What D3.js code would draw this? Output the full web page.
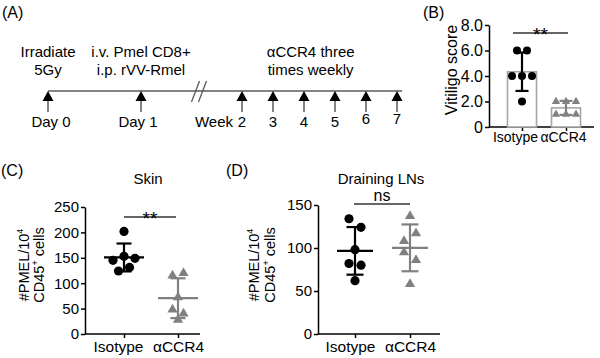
<!DOCTYPE html>
<html><head><meta charset="utf-8">
<script src="https://cdn.jsdelivr.net/npm/d3@7"></script>
<style>
body{margin:0;background:#fff}
svg{font-family:Arial,"Liberation Sans",Helvetica,sans-serif;display:block}
</style>
</head><body>
<svg id="chart" width="600" height="358"></svg>
<script>
// ---------- data ----------
const groups = ["Isotype", "αCCR4"];
const vitiligoIsotype = [6, 6, 4, 4, 4, 2];
const vitiligoCCR4 = [2, 2, 2, 1, 1, 1];
const skinIsotype = [202, 145, 153, 149, 124, 131];
const skinCCR4 = [115, 120, 72, 48, 40, 28];
const lnIsotype = [134, 124, 98, 82, 80, 62];
const lnCCR4 = [137, 108, 117, 95, 86, 58];
const vitiligoTicks = [0, 2, 4, 6, 8];
const vitiligoTickLabels = ["0", "2.0", "4.0", "6.0", "8.0"];
const skinTicks = [0, 50, 100, 150, 200, 250];
const lnTicks = [0, 50, 100, 150];
const significance = ["**", "**", "ns"];
const panelTitles = ["Skin", "Draining LNs"];
const panelLetters = ["(A)", "(B)", "(C)", "(D)"];
// timeline (days)
const timelineDays = [0, 1, 14, 21, 28, 35, 42, 49];
const timelineLabels = ["Day 0", "Day 1", "2", "3", "4", "5", "6", "7"];
const noteDays = [0, 1, 29.5];
const noteLines = [["Irradiate", "5Gy"], ["i.v. Pmel CD8+", "i.p. rVV-Rmel"], ["αCCR4 three", "times weekly"]];

// ---------- setup ----------
const svg = d3.select("#chart");
const GREY = "#808080";
const LINEGREY = "#5a5a5a";

// panel letters
const letterPos = [[2, 18], [423, 18], [1, 176], [226, 176]];
panelLetters.forEach((t, i) => {
  svg.append("text").attr("x", letterPos[i][0]).attr("y", letterPos[i][1])
    .attr("font-size", 16).text(t);
});

// ---------- Panel A: timeline ----------
(function () {
  const x = d3.scaleLinear().domain([0, 1, 14, 49]).range([48, 141, 242, 397]);
  const yLine = 91;
  const g = svg.append("g");
  g.append("line").attr("x1", x(0)).attr("x2", x(49) + 5)
    .attr("y1", yLine).attr("y2", yLine)
    .attr("stroke", LINEGREY).attr("stroke-width", 1.6);
  // break marks
  const bx = (x(1) + x(14)) / 2 + 8;
  [-4, 3].forEach(o => {
    g.append("line").attr("x1", bx + o - 4).attr("y1", yLine + 11)
      .attr("x2", bx + o + 4).attr("y2", yLine - 10)
      .attr("stroke", LINEGREY).attr("stroke-width", 1.3);
  });
  // arrows
  const arr = g.selectAll("g.arrow").data(timelineDays).join("g")
    .attr("transform", d => `translate(${x(d)},${yLine})`);
  arr.append("line").attr("y1", 9).attr("y2", 21)
    .attr("stroke", LINEGREY).attr("stroke-width", 1.5);
  arr.append("path").attr("d", "M0,0 L5.5,10 L-5.5,10 Z").attr("fill", "#000");
  // labels under
  g.selectAll("text.tl").data(timelineDays).join("text")
    .attr("x", (d, i) => i < 2 ? x(d) + (i === 0 ? 3 : -3) : x(d))
    .attr("y", (d, i) => i >= 6 ? 124 : 127)
    .attr("text-anchor", "middle").attr("font-size", 15)
    .text((d, i) => timelineLabels[i]);
  g.append("text").attr("x", x(14) - 9).attr("y", 127)
    .attr("text-anchor", "end").attr("font-size", 15).text("Week");
  // notes above
  noteDays.forEach((d, i) => {
    noteLines[i].forEach((ln, j) => {
      g.append("text").attr("x", x(d)).attr("y", 57 + j * 18)
        .attr("text-anchor", "middle").attr("font-size", 15).text(ln);
    });
  });
})();

// ---------- helpers ----------
function swarmOffsets(values, y, spacing, thresh) {
  const idx = values.map((v, i) => i).sort((a, b) => (y(values[a]) - y(values[b])) || (a - b));
  const off = new Array(values.length).fill(0);
  let clusters = [], cur = null, start = null;
  idx.forEach(k => {
    const py = y(values[k]);
    if (cur === null || py - start > thresh) { cur = [k]; start = py; clusters.push(cur); }
    else cur.push(k);
  });
  clusters.forEach(c => {
    c.sort((a, b) => a - b);
    c.forEach((k, j) => off[k] = (j - (c.length - 1) / 2) * spacing);
  });
  return off;
}

function drawPanel(cfg) {
  const g = svg.append("g");
  const y = d3.scaleLinear().domain(cfg.domain).range([cfg.bottom, cfg.top]);
  const x = d3.scalePoint().domain(groups).range(cfg.xr);
  // y axis
  const ya = d3.axisLeft(y).tickValues(cfg.ticks).tickSize(4).tickPadding(2)
    .tickSizeOuter(0).tickFormat((d, i) => cfg.tickLabels ? cfg.tickLabels[i] : d);
  const yg = g.append("g").attr("transform", `translate(${cfg.left},0)`).call(ya);
  yg.selectAll("text").attr("font-size", cfg.fs).attr("font-family", null).attr("fill", "#000");
  yg.selectAll("line,path").attr("stroke", "#000").attr("stroke-width", 1.5);
  // x axis: baseline + ticks
  g.append("line").attr("x1", cfg.left).attr("x2", cfg.right)
    .attr("y1", cfg.bottom).attr("y2", cfg.bottom).attr("stroke", "#000").attr("stroke-width", 1.5);
  const xa = d3.axisBottom(x).tickSize(4).tickPadding(cfg.xpad).tickSizeOuter(0);
  const xg = g.append("g").attr("transform", `translate(0,${cfg.bottom})`).call(xa);
  xg.select("path.domain").remove();
  xg.selectAll("text").attr("font-size", cfg.xfs).attr("font-family", null).attr("fill", "#000")
    .attr("dx", (d, i) => cfg.xdx ? cfg.xdx[i] : 0);
  xg.selectAll("line").attr("stroke", "#000").attr("stroke-width", 1.5);
  // y title
  const yt = g.append("text").attr("transform", `translate(${cfg.titleX},${cfg.titleY}) rotate(-90)`)
    .attr("text-anchor", "middle").attr("font-size", cfg.tfs);
  cfg.ytitle(yt);

  const sets = cfg.data;
  sets.forEach((vals, gi) => {
    const cx = x(groups[gi]);
    const m = d3.mean(vals), sd = d3.deviation(vals);
    const col = gi === 0 ? "#000" : GREY;
    if (cfg.bars) {
      g.append("rect").attr("x", cx - cfg.barW / 2).attr("width", cfg.barW)
        .attr("y", y(m)).attr("height", y(0) - y(m))
        .attr("fill", "#fff").attr("stroke", "#a6a6a6").attr("stroke-width", 1.6);
    }
    const off = swarmOffsets(vals, y, cfg.spacing, cfg.thresh);
    vals.forEach((v, k) => {
      if (gi === 0) {
        g.append("circle").attr("cx", cx + off[k]).attr("cy", y(v)).attr("r", cfg.r).attr("fill", "#000");
      } else {
        g.append("path").attr("d", d3.symbol(d3.symbolTriangle, cfg.tri)())
          .attr("transform", `translate(${cx + off[k]},${y(v)})`).attr("fill", GREY);
      }
    });
    // error bars
    const sw = 2.2;
    g.append("line").attr("x1", cx).attr("x2", cx).attr("y1", y(m - sd)).attr("y2", y(m + sd))
      .attr("stroke", col).attr("stroke-width", sw);
    [m - sd, m + sd].forEach(v => {
      g.append("line").attr("x1", cx - cfg.capW / 2).attr("x2", cx + cfg.capW / 2)
        .attr("y1", y(v)).attr("y2", y(v)).attr("stroke", col).attr("stroke-width", sw);
    });
    if (!cfg.bars) {
      g.append("line").attr("x1", cx - cfg.meanW / 2).attr("x2", cx + cfg.meanW / 2)
        .attr("y1", y(m)).attr("y2", y(m)).attr("stroke", col).attr("stroke-width", sw);
    }
  });
  // significance
  g.append("line").attr("x1", cfg.sigX[0]).attr("x2", cfg.sigX[1])
    .attr("y1", cfg.sigY).attr("y2", cfg.sigY).attr("stroke", "#333").attr("stroke-width", 1.3);
  g.append("text").attr("x", (cfg.sigX[0] + cfg.sigX[1]) / 2)
    .attr("y", cfg.sig === "ns" ? cfg.sigY - 3 : cfg.sigY + 8)
    .attr("text-anchor", "middle").attr("font-size", cfg.sig === "ns" ? 16 : 19)
    .text(cfg.sig);
  if (cfg.title) {
    g.append("text").attr("x", cfg.titleCX).attr("y", 184).attr("text-anchor", "middle")
      .attr("font-size", 15).text(cfg.title);
  }
}

function cellsTitle(t, dxLine) {
  t.append("tspan").attr("x", 0).attr("dy", 0).text("#PMEL/10");
  t.append("tspan").attr("font-size", 9).attr("dy", -6).text("4");
  t.append("tspan").attr("x", 0).attr("dy", dxLine + 6).text("CD45");
  t.append("tspan").attr("font-size", 9).attr("dy", -6).text("+");
  t.append("tspan").attr("dy", 6).text(" cells");
}

// ---------- Panel B ----------
drawPanel({
  domain: [0, 8], top: 25, bottom: 127, left: 489, right: 594, xr: [522, 566],
  ticks: vitiligoTicks, tickLabels: vitiligoTickLabels, fs: 16, xpad: 1, xfs: 14, xdx: [-7, -3],
  titleX: 457, titleY: 70, tfs: 16,
  ytitle: t => t.text("Vitiligo score"),
  data: [vitiligoIsotype, vitiligoCCR4], bars: true, barW: 29,
  r: 4, tri: 30, spacing: 10, thresh: 6, capW: 13, meanW: 0,
  sig: significance[0], sigX: [513, 568], sigY: 33
});

// ---------- Panel C ----------
drawPanel({
  domain: [0, 250], top: 207, bottom: 334, left: 85, right: 200, xr: [124, 178],
  ticks: skinTicks, fs: 15, xpad: 3, xfs: 15.5, xdx: [-6, 0],
  titleX: 29, titleY: 265, tfs: 14.5,
  ytitle: t => cellsTitle(t, 15),
  data: [skinIsotype, skinCCR4], bars: false,
  r: 4.6, tri: 45, spacing: 11, thresh: 9.5, capW: 15, meanW: 40,
  sig: significance[1], sigX: [124, 176], sigY: 217, title: panelTitles[0], titleCX: 148
});

// ---------- Panel D ----------
drawPanel({
  domain: [0, 150], top: 205, bottom: 334, left: 318, right: 440, xr: [355, 410],
  ticks: lnTicks, fs: 15, xpad: 3, xfs: 15.5, xdx: [-5, 0],
  titleX: 259, titleY: 265, tfs: 14.5,
  ytitle: t => cellsTitle(t, 16),
  data: [lnIsotype, lnCCR4], bars: false,
  r: 4.6, tri: 45, spacing: 12, thresh: 9.5, capW: 17, meanW: 36,
  sig: significance[2], sigX: [354, 410], sigY: 204, title: panelTitles[1], titleCX: 381
});
</script>
</body></html>
